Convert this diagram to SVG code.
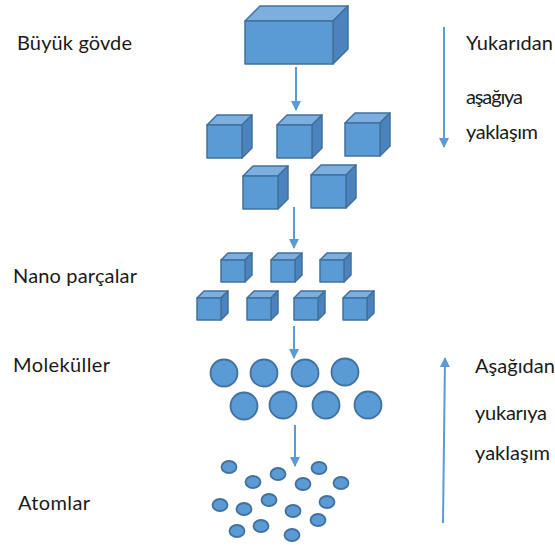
<svg xmlns="http://www.w3.org/2000/svg" width="555" height="549" viewBox="0 0 555 549">
<defs>
<style>
.lbl{font-family:Lato,"Open Sans","Liberation Sans",sans-serif;font-size:20px;fill:#1a1a1a}
.front{fill:#5B9BD5;stroke:#41719C;stroke-width:1.5;stroke-linejoin:round}
.top{fill:#7CAFE0;stroke:#41719C;stroke-width:1.5;stroke-linejoin:round}
.side{fill:#4A83BD;stroke:#41719C;stroke-width:1.5;stroke-linejoin:round}
.ball{fill:#5B9BD5;stroke:#41719C;stroke-width:1.8}
.arr{stroke:#5B9BD5;stroke-width:2;fill:none}
</style>
<marker id="ah" viewBox="0 0 10 10" refX="9" refY="5" markerWidth="10" markerHeight="10" markerUnits="userSpaceOnUse" orient="auto">
<path d="M0,0 L10,5 L0,10 Z" fill="#5B9BD5"/>
</marker>
</defs>
<rect width="555" height="549" fill="#ffffff"/>

<g id="labels">
<text class="lbl" x="17" y="50" textLength="115">Büyük gövde</text>
<text class="lbl" x="13" y="283" textLength="124">Nano parçalar</text>
<text class="lbl" x="13" y="372" textLength="97">Moleküller</text>
<text class="lbl" x="18" y="510" textLength="72">Atomlar</text>
<text class="lbl" x="466" y="50" textLength="87">Yukarıdan</text>
<text class="lbl" x="466" y="104" textLength="57">aşağıya</text>
<text class="lbl" x="466" y="139" textLength="72">yaklaşım</text>
<text class="lbl" x="475" y="373" textLength="80">Aşağıdan</text>
<text class="lbl" x="475" y="420" textLength="72">yukarıya</text>
<text class="lbl" x="475" y="460" textLength="75">yaklaşım</text>
</g>

<g id="connectors">
<line class="arr" x1="296" y1="67" x2="296" y2="110" marker-end="url(#ah)"/>
<line class="arr" x1="294" y1="207" x2="294" y2="248" marker-end="url(#ah)"/>
<line class="arr" x1="294" y1="326" x2="294" y2="358" marker-end="url(#ah)"/>
<line class="arr" x1="295" y1="425" x2="295" y2="466" marker-end="url(#ah)"/>
<line class="arr" x1="444" y1="27" x2="444" y2="147" marker-end="url(#ah)"/>
<line class="arr" x1="443" y1="523" x2="445" y2="358" marker-end="url(#ah)"/>
</g>

<g id="bulk">
<path class="top" d="M245,21 L260,6 L348,6 L333,21 Z"/>
<path class="side" d="M333,21 L348,6 L348,49 L333,64 Z"/>
<rect class="front" x="245" y="21" width="88" height="43"/>
</g>

<g id="pieces">
<g id="cube1"><path class="top" d="M207,125 L217,115 L252,115 L242,125 Z"/><path class="side" d="M242,125 L252,115 L252,148 L242,158 Z"/><rect class="front" x="207" y="125" width="35" height="33"/></g>
<g id="cube2"><path class="top" d="M277,125 L287,115 L322,115 L312,125 Z"/><path class="side" d="M312,125 L322,115 L322,148 L312,158 Z"/><rect class="front" x="277" y="125" width="35" height="33"/></g>
<g id="cube3"><path class="top" d="M345,123 L355,113 L390,113 L380,123 Z"/><path class="side" d="M380,123 L390,113 L390,146 L380,156 Z"/><rect class="front" x="345" y="123" width="35" height="33"/></g>
<g id="cube4"><path class="top" d="M243,176 L253,166 L288,166 L278,176 Z"/><path class="side" d="M278,176 L288,166 L288,199 L278,209 Z"/><rect class="front" x="243" y="176" width="35" height="33"/></g>
<g id="cube5"><path class="top" d="M311,175 L321,165 L356,165 L346,175 Z"/><path class="side" d="M346,175 L356,165 L356,198 L346,208 Z"/><rect class="front" x="311" y="175" width="35" height="33"/></g>
</g>

<g id="nano">
<g id="n1"><path class="top" d="M221,260 L228,253 L252,253 L245,260 Z"/><path class="side" d="M245,260 L252,253 L252,275 L245,282 Z"/><rect class="front" x="221" y="260" width="24" height="22"/></g>
<g id="n2"><path class="top" d="M271,260 L278,253 L302,253 L295,260 Z"/><path class="side" d="M295,260 L302,253 L302,275 L295,282 Z"/><rect class="front" x="271" y="260" width="24" height="22"/></g>
<g id="n3"><path class="top" d="M320,260 L327,253 L351,253 L344,260 Z"/><path class="side" d="M344,260 L351,253 L351,275 L344,282 Z"/><rect class="front" x="320" y="260" width="24" height="22"/></g>
<g id="n4"><path class="top" d="M197,298 L204,291 L228,291 L221,298 Z"/><path class="side" d="M221,298 L228,291 L228,313 L221,320 Z"/><rect class="front" x="197" y="298" width="24" height="22"/></g>
<g id="n5"><path class="top" d="M247,298 L254,291 L278,291 L271,298 Z"/><path class="side" d="M271,298 L278,291 L278,313 L271,320 Z"/><rect class="front" x="247" y="298" width="24" height="22"/></g>
<g id="n6"><path class="top" d="M294,298 L301,291 L325,291 L318,298 Z"/><path class="side" d="M318,298 L325,291 L325,313 L318,320 Z"/><rect class="front" x="294" y="298" width="24" height="22"/></g>
<g id="n7"><path class="top" d="M343,298 L350,291 L374,291 L367,298 Z"/><path class="side" d="M367,298 L374,291 L374,313 L367,320 Z"/><rect class="front" x="343" y="298" width="24" height="22"/></g>
</g>

<g id="molecules">
<circle class="ball" cx="224" cy="373" r="13.5"/>
<circle class="ball" cx="264" cy="373" r="13.5"/>
<circle class="ball" cx="305" cy="373" r="13.5"/>
<circle class="ball" cx="345" cy="372" r="13.5"/>
<circle class="ball" cx="244" cy="406" r="13.5"/>
<circle class="ball" cx="283" cy="405" r="13.5"/>
<circle class="ball" cx="326" cy="405" r="13.5"/>
<circle class="ball" cx="368" cy="405" r="13.5"/>
</g>

<g id="atoms">
<ellipse class="ball" cx="229" cy="467" rx="7.5" ry="6"/>
<ellipse class="ball" cx="253" cy="482" rx="7.5" ry="6"/>
<ellipse class="ball" cx="278" cy="474" rx="7.5" ry="6"/>
<ellipse class="ball" cx="319" cy="468" rx="7.5" ry="6"/>
<ellipse class="ball" cx="303" cy="484" rx="7.5" ry="6"/>
<ellipse class="ball" cx="341" cy="483" rx="7.5" ry="6"/>
<ellipse class="ball" cx="220" cy="505" rx="7.5" ry="6"/>
<ellipse class="ball" cx="244" cy="509" rx="7.5" ry="6"/>
<ellipse class="ball" cx="269" cy="500" rx="7.5" ry="6"/>
<ellipse class="ball" cx="293" cy="511" rx="7.5" ry="6"/>
<ellipse class="ball" cx="327" cy="502" rx="7.5" ry="6"/>
<ellipse class="ball" cx="318" cy="520" rx="7.5" ry="6"/>
<ellipse class="ball" cx="237" cy="531" rx="7.5" ry="6"/>
<ellipse class="ball" cx="261" cy="526" rx="7.5" ry="6"/>
<ellipse class="ball" cx="292" cy="535" rx="7.5" ry="6"/>
</g>
</svg>
